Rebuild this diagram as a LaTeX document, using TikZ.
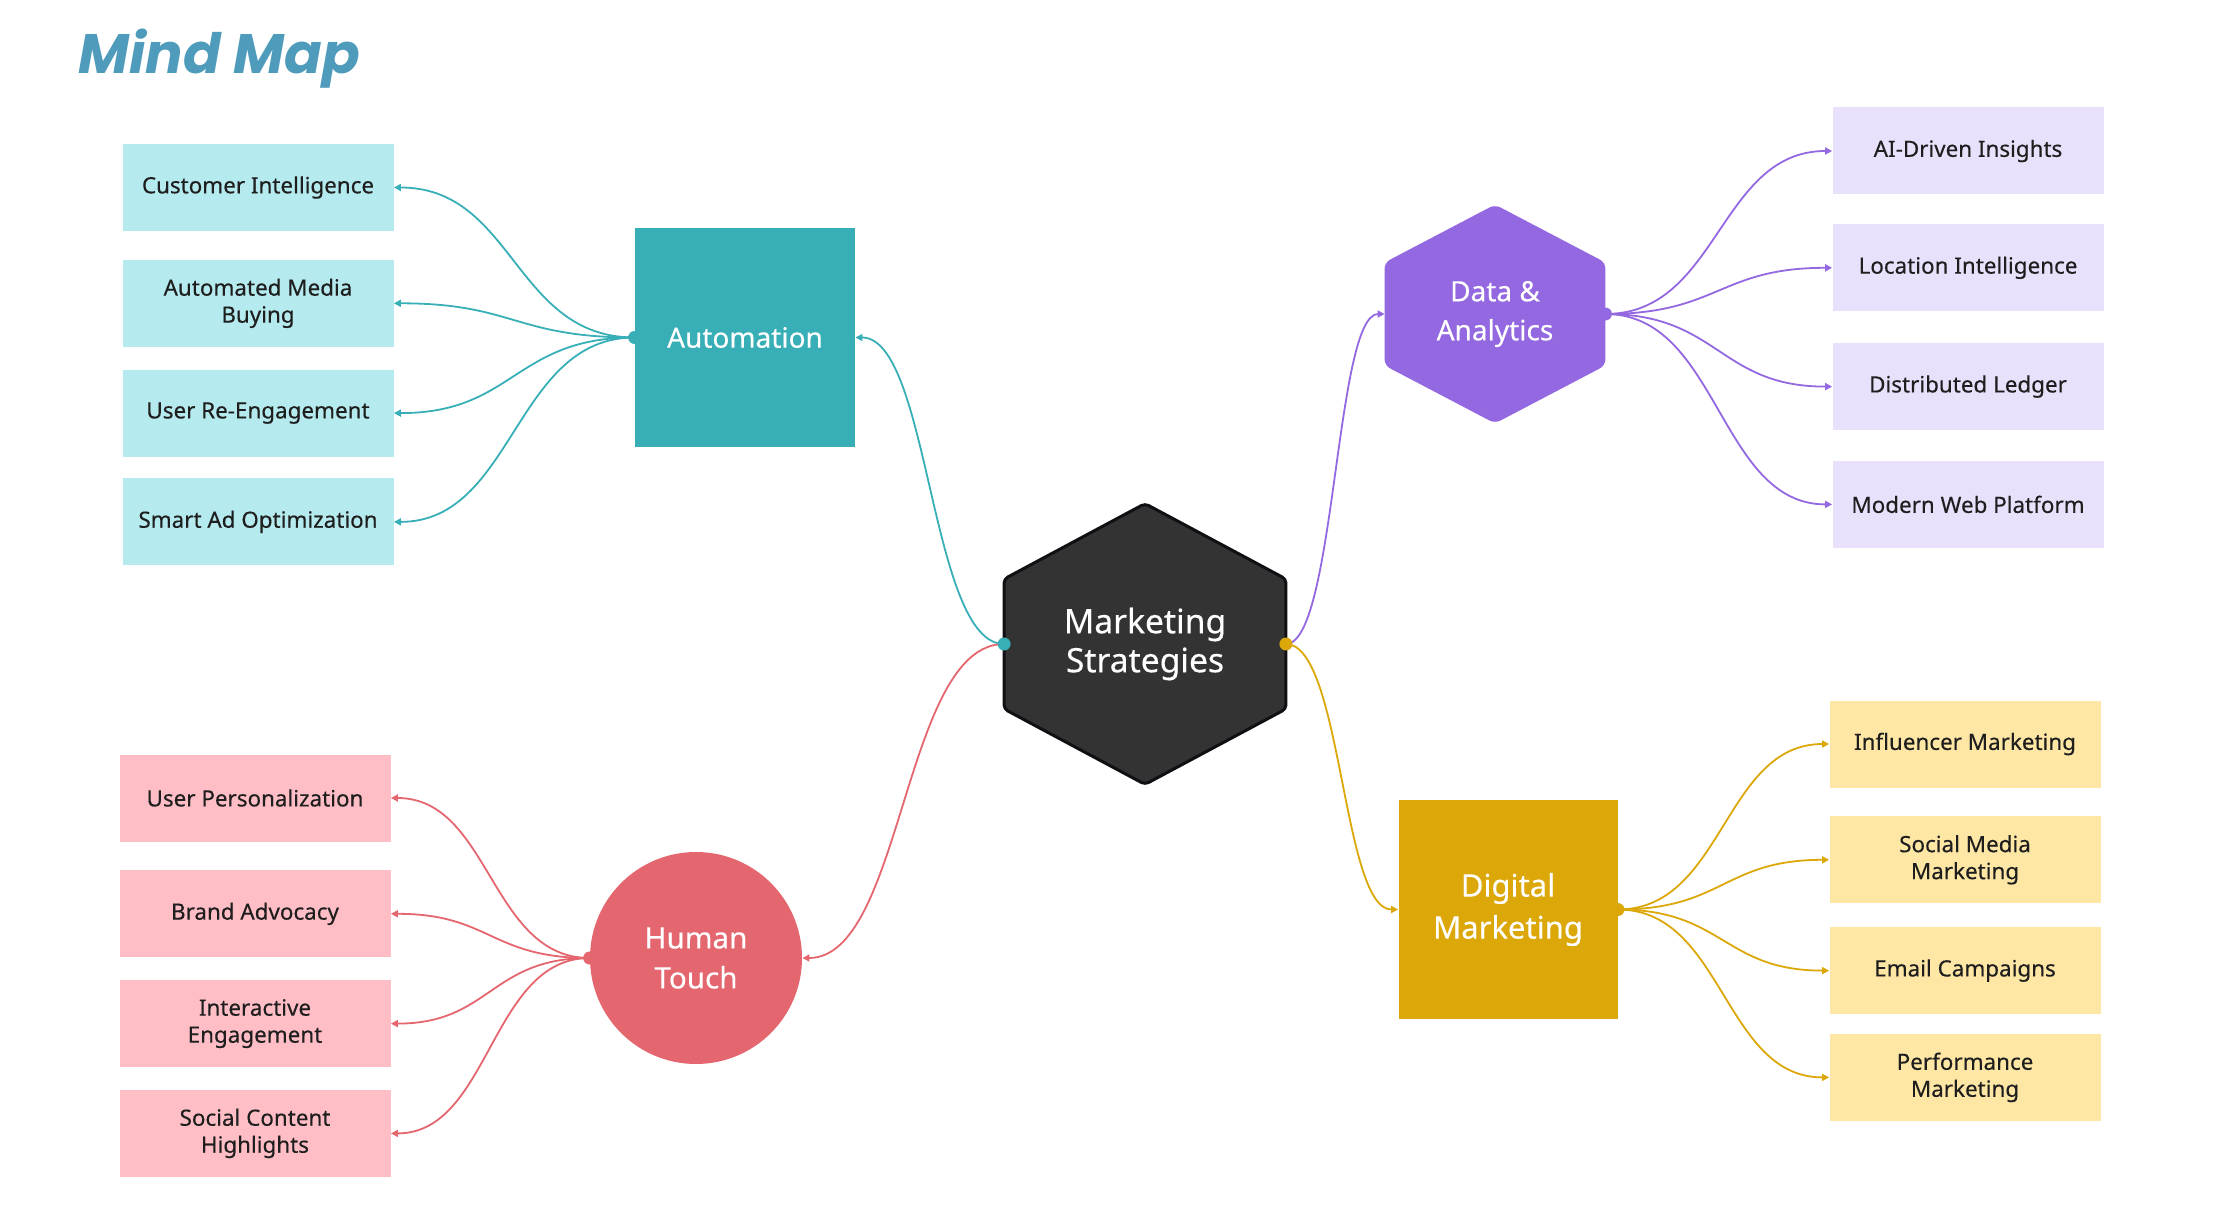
\documentclass[tikz,border=0pt]{standalone}
\usepackage{fontspec}
\setmainfont{Noto Sans}[FakeBold=0.3]
\newfontfamily\titlefont{Poppins}
\usetikzlibrary{positioning,calc,arrows.meta,backgrounds}

\definecolor{autoteal}{HTML}{38AFB7}
\definecolor{autolight}{HTML}{B5EAEE}
\definecolor{dataviolet}{HTML}{9368E0}
\definecolor{datalight}{HTML}{E9E1FB}
\definecolor{diggold}{HTML}{DCA709}
\definecolor{diglight}{HTML}{FEE7A5}
\definecolor{humanred}{HTML}{E4666F}
\definecolor{humanlight}{HTML}{FFBEC5}
\definecolor{hubgray}{HTML}{333333}
\definecolor{hubline}{HTML}{101014}
\definecolor{titleblue}{HTML}{4F9BBB}
\definecolor{leaftext}{HTML}{1E1E1E}

\tikzset{
  leaf/.style={fill=#1, minimum width=135.5pt, minimum height=43.5pt, inner sep=0pt,
    align=center, text=leaftext, font=\fontsize{11.2}{13.5}\selectfont},
  branch/.style={fill=#1, text=white, align=center, inner sep=0pt,
    font=\fontsize{14}{20}\selectfont},
  knot/.style={circle, fill=#1, inner sep=0pt, minimum size=6.5pt},
  link/.style={draw=#1, line width=0.9pt, -{Triangle[length=3.5pt,width=3.5pt]},
    to path={let \p1=(\tikztostart), \p2=(\tikztotarget),
      \n1={(\x2-\x1)/2}, \n2={(\x1-\x2)/2} in
      .. controls ([xshift=\n1]\p1) and ([xshift=\n2]\p2) .. (\tikztotarget) \tikztonodes}},
}

\begin{document}
\begin{tikzpicture}[x=0.5pt, y=-0.5pt]
\useasboundingbox (0,0) rectangle (2231,1225);

\node[anchor=base west, inner sep=0pt, text=titleblue,
  font=\titlefont\fontsize{27.8}{30}\selectfont\bfseries\itshape] (title) at (78,74) {Mind Map};

% hub and branches
\node[branch=none, minimum width=140.5pt, minimum height=140pt,
  font=\fontsize{16.8}{19.5}\selectfont] (mkt) at (1145,644) {Marketing\\Strategies};
\node[branch=autoteal, minimum width=110pt, minimum height=109.5pt] (auto) at (745,337.5) {Automation};
\node[branch=none, minimum width=110pt, minimum height=109pt, font=\fontsize{14}{19.5}\selectfont] (data) at (1495,314) {Data \&\\Analytics};
\node[branch=diggold, minimum width=109.5pt, minimum height=109.5pt, font=\fontsize{15.5}{21}\selectfont] (dig) at (1508,909.5) {Digital\\Marketing};
\node[branch=humanred, circle, minimum size=106pt, font=\fontsize{14.8}{20}\selectfont] (human) at (696,958) {Human\\Touch};

\begin{scope}[on background layer]
\filldraw[fill=hubgray, draw=hubline, line width=1.5pt, rounded corners=2pt]
  (mkt.north) -- ([yshift=32.5pt]mkt.east) -- ([yshift=-32.5pt]mkt.east) -- (mkt.south)
  -- ([yshift=-32.5pt]mkt.west) -- ([yshift=32.5pt]mkt.west) -- cycle;
\fill[dataviolet, rounded corners=3pt]
  (data.north) -- ([yshift=25.75pt]data.east) -- ([yshift=-25.75pt]data.east) -- (data.south)
  -- ([yshift=-25.75pt]data.west) -- ([yshift=25.75pt]data.west) -- cycle;
\end{scope}

% leaves
\node[leaf=autolight] (custint) at (258,187.5) {Customer Intelligence};
\node[leaf=autolight, below=14pt of custint] (mediabuy) {Automated Media\\Buying};
\node[leaf=autolight, below=11pt of mediabuy] (reengage) {User Re-Engagement};
\node[leaf=autolight, below=10.5pt of reengage] (adopt) {Smart Ad Optimization};

\node[leaf=datalight] (aiins) at (1968,151) {AI-Driven Insights};
\node[leaf=datalight, below=14.5pt of aiins] (locint) {Location Intelligence};
\node[leaf=datalight, below=15.5pt of locint] (ledger) {Distributed Ledger};
\node[leaf=datalight, below=15pt of ledger] (webplat) {Modern Web Platform};

\node[leaf=diglight] (influ) at (1965,744) {Influencer Marketing};
\node[leaf=diglight, below=14pt of influ] (socmed) {Social Media\\Marketing};
\node[leaf=diglight, below=11.5pt of socmed] (email) {Email Campaigns};
\node[leaf=diglight, below=9.5pt of email] (perf) {Performance\\Marketing};

\node[leaf=humanlight] (perso) at (255,798) {User Personalization};
\node[leaf=humanlight, below=14pt of perso] (advo) {Brand Advocacy};
\node[leaf=humanlight, below=11pt of advo] (interact) {Interactive\\Engagement};
\node[leaf=humanlight, below=11pt of interact] (highl) {Social Content\\Highlights};

% connectors
\path (mkt.west) edge[link=autoteal] (auto.east)
      (mkt.west) edge[link=humanred] (human.east)
      (mkt.east) edge[link=dataviolet] (data.west)
      (mkt.east) edge[link=diggold] (dig.west);
\path (auto.west) edge[link=autoteal] (custint.east)
                  edge[link=autoteal] (mediabuy.east)
                  edge[link=autoteal] (reengage.east)
                  edge[link=autoteal] (adopt.east);
\path (data.east) edge[link=dataviolet] (aiins.west)
                  edge[link=dataviolet] (locint.west)
                  edge[link=dataviolet] (ledger.west)
                  edge[link=dataviolet] (webplat.west);
\path (dig.east) edge[link=diggold] (influ.west)
                 edge[link=diggold] (socmed.west)
                 edge[link=diggold] (email.west)
                 edge[link=diggold] (perf.west);
\path (human.west) edge[link=humanred] (perso.east)
                   edge[link=humanred] (advo.east)
                   edge[link=humanred] (interact.east)
                   edge[link=humanred] (highl.east);

% dots
\node[knot=autoteal] (mktl) at (mkt.west) {};
\node[knot=diggold] (mktr) at (mkt.east) {};
\node[knot=autoteal] (autodot) at (auto.west) {};
\node[knot=dataviolet] (datadot) at (data.east) {};
\node[knot=diggold] (digdot) at (dig.east) {};
\node[knot=humanred] (humandot) at (human.west) {};
\end{tikzpicture}
\end{document}
